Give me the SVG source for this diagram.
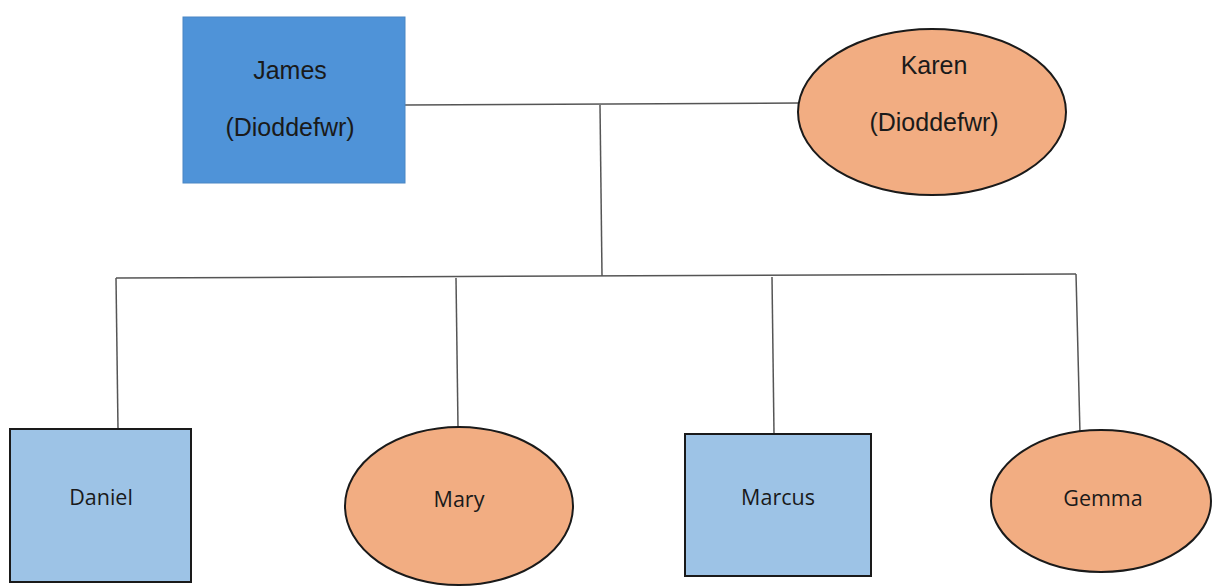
<svg xmlns="http://www.w3.org/2000/svg" width="1212" height="587" viewBox="0 0 1212 587">
<style>
.big{font-family:"Liberation Sans",Arial,sans-serif;font-size:25px;fill:#1a1a1a;text-anchor:middle}
.small{font-family:"Open Sans","Noto Sans",sans-serif;font-size:21.5px;fill:#1a1a1a;text-anchor:middle}
.child-m{fill:#9DC3E6;stroke:#1a1a1a;stroke-width:2}
.child-f{fill:#F2AD82;stroke:#1a1a1a;stroke-width:2}
.conn{stroke:#555;stroke-width:1.5;fill:none}
</style>
<rect width="1212" height="587" fill="#fff"/>
<g id="connectors">
<path class="conn" d="M405 105 L800 103"/>
<path class="conn" d="M600 105 L602 276"/>
<path class="conn" d="M116 278 L1076 274"/>
<path class="conn" d="M116 278 L118 429"/>
<path class="conn" d="M456 278 L458 427"/>
<path class="conn" d="M772 277 L774 434"/>
<path class="conn" d="M1076 274 L1080 434"/>
</g>
<g id="james">
<rect x="183" y="17" width="222" height="166" fill="#4F93D8" stroke="#4a86c4" stroke-width="1"/>
<text class="big" x="290" y="79">James</text>
<text class="big" x="290" y="136">(Dioddefwr)</text>
</g>
<g id="karen">
<ellipse cx="932" cy="112" rx="134" ry="83" class="child-f"/>
<text class="big" x="934" y="74">Karen</text>
<text class="big" x="934" y="131">(Dioddefwr)</text>
</g>
<g id="daniel">
<rect x="10" y="429" width="181" height="153" class="child-m"/>
<text class="small" x="101" y="505">Daniel</text>
</g>
<g id="mary">
<ellipse cx="459" cy="506" rx="114" ry="79" class="child-f"/>
<text class="small" x="459" y="507">Mary</text>
</g>
<g id="marcus">
<rect x="685" y="434" width="186" height="142" class="child-m"/>
<text class="small" x="778" y="505">Marcus</text>
</g>
<g id="gemma">
<ellipse cx="1101" cy="501" rx="110" ry="71" class="child-f"/>
<text class="small" x="1103" y="506">Gemma</text>
</g>
</svg>
